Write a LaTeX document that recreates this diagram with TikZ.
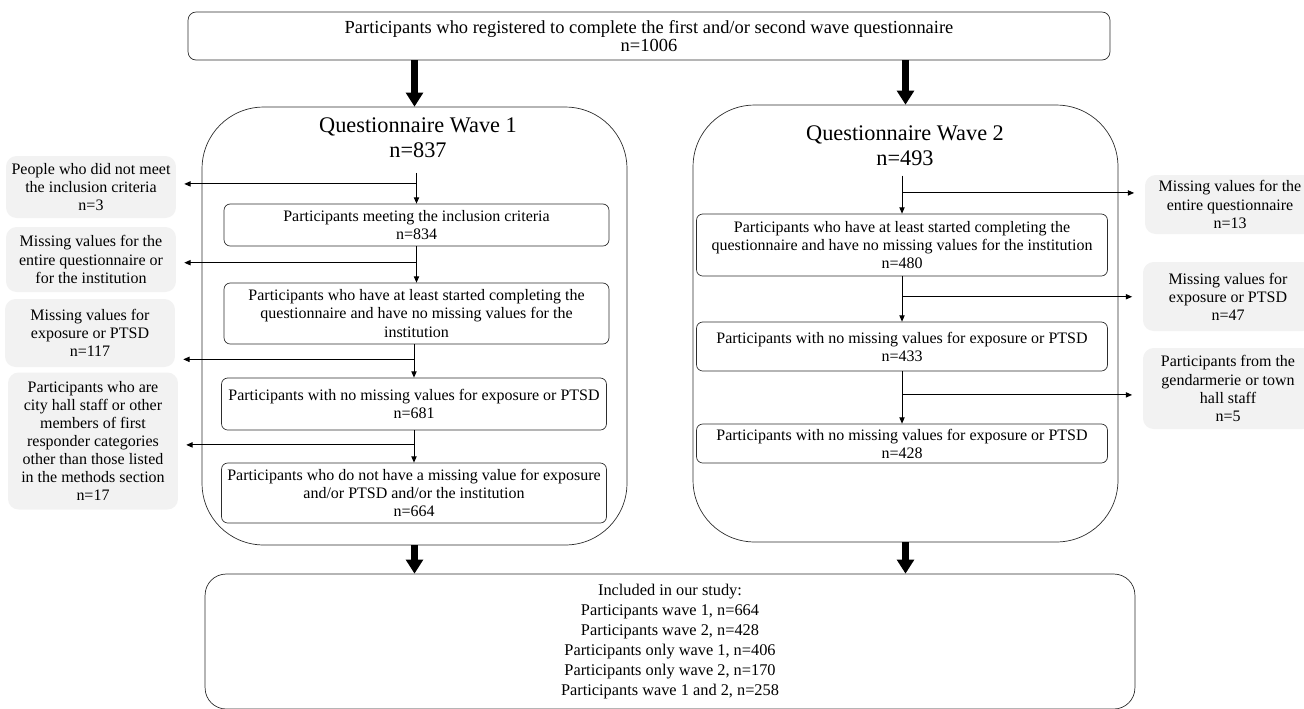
\documentclass[tikz,border=0pt]{standalone}
\usepackage{fontspec}
\setmainfont{Liberation Serif}
\usetikzlibrary{arrows.meta, positioning, calc}

\definecolor{sidegray}{RGB}{242,242,242}
\definecolor{edgegray}{RGB}{45,45,45}

\begin{document}
\begin{tikzpicture}[
  x=0.02cm, y=-0.02cm,
  every node/.style={font=\fontsize{9.1}{10.3}\selectfont},
  topbox/.style={draw=edgegray, rounded corners=4.5pt, align=center, minimum width=18.44cm, minimum height=0.96cm, font=\fontsize{10.5}{9.8}\selectfont},
  wavebox/.style={draw=edgegray, rounded corners=35pt, minimum width=8.5cm},
  wavetitle/.style={align=center, font=\fontsize{12.7}{14.2}\selectfont},
  stepbox/.style={draw=edgegray, rounded corners=3.5pt, align=center, inner sep=1pt},
  sidebox/.style={fill=sidegray, rounded corners=6pt, align=center, minimum width=3.4cm, inner sep=1pt},
  inclbox/.style={draw=edgegray, rounded corners=12pt, align=center, minimum width=18.6cm, minimum height=2.7cm, font=\fontsize{9.3}{11.3}\selectfont},
  fatarrow/.style={line width=4pt, -{Triangle[length=8pt,width=9.5pt]}},
  thinarrow/.style={line width=0.55pt, -{Triangle[length=3.6pt,width=3pt]}}
]
\useasboundingbox (0,0) rectangle (1304,708);

% registration
\node[topbox] (reg) at (649,36) {Participants who registered to complete the first and/or second wave questionnaire\\n=1006};

% the two waves
\node[wavebox, minimum height=8.76cm] (wave1) at (414.5,326) {};
\node[wavebox, minimum height=8.74cm] (wave2) at (905.5,323.5) {};
\node[wavetitle] (w1title) at (418,138) {Questionnaire Wave 1\\n=837};
\node[wavetitle] (w2title) at (905,146) {Questionnaire Wave 2\\n=493};

% wave 1 steps
\node[stepbox, minimum width=7.7cm, minimum height=0.84cm] (w1a) at (416.5,225) {Participants meeting the inclusion criteria\\n=834};
\node[stepbox, minimum width=7.7cm, minimum height=1.22cm] (w1b) at (416.5,313.5) {Participants who have at least started completing the\\questionnaire and have no missing values for the\\institution};
\node[stepbox, minimum width=7.7cm, minimum height=1.04cm] (w1c) at (414,404) {Participants with no missing values for exposure or PTSD\\n=681};
\node[stepbox, minimum width=7.7cm, minimum height=1.2cm] (w1d) at (414,493) {Participants who do not have a missing value for exposure\\and/or PTSD and/or the institution\\n=664};

% wave 2 steps
\node[stepbox, minimum width=8.22cm, minimum height=1.24cm] (w2a) at (902,245) {Participants who have at least started completing the\\questionnaire and have no missing values for the institution\\n=480};
\node[stepbox, minimum width=8.22cm, minimum height=0.98cm] (w2b) at (902,346.5) {Participants with no missing values for exposure or PTSD\\n=433};
\node[stepbox, minimum width=8.22cm, minimum height=0.78cm] (w2c) at (902,443.5) {Participants with no missing values for exposure or PTSD\\n=428};

% exclusions, wave 1
\node[sidebox, minimum height=1.24cm] (s1) at (91,187) {People who did not meet\\the inclusion criteria\\n=3};
\node[sidebox, minimum height=1.3cm] (s2) at (91,259.5) {Missing values for the\\entire questionnaire or\\for the institution};
\node[sidebox, minimum height=1.36cm] (s3) at (90,333) {Missing values for\\exposure or PTSD\\n=117};
\node[sidebox, minimum height=2.74cm] (s4) at (93,441) {Participants who are\\city hall staff or other\\members of first\\responder categories\\other than those listed\\in the methods section\\n=17};

% exclusions, wave 2
\node[sidebox, minimum height=1.18cm] (r1) at (1230,204.5) {Missing values for the\\entire questionnaire\\n=13};
\node[sidebox, minimum height=1.38cm] (r2) at (1228,296.5) {Missing values for\\exposure or PTSD\\n=47};
\node[sidebox, minimum height=1.62cm] (r3) at (1228,388.5) {Participants from the\\gendarmerie or town\\hall staff\\n=5};

% final sample
\node[inclbox] (incl) at (670,641.5) {Included in our study:\\Participants wave 1, n=664\\Participants wave 2, n=428\\Participants only wave 1, n=406\\Participants only wave 2, n=170\\Participants wave 1 and 2, n=258};

\draw[fatarrow] (reg.south -| wave1.north) -- (wave1.north);
\draw[fatarrow] (reg.south -| wave2.north) -- (wave2.north);
\draw[fatarrow] (wave1.south) -- (wave1.south |- incl.north);
\draw[fatarrow] (wave2.south) -- (wave2.south |- incl.north);

% wave 1 flow
\draw[thinarrow, shorten <=5pt] (w1title.south -| w1a.north) -- (w1a.north);
\draw[thinarrow] (w1a.south) -- (w1b.north);
\draw[thinarrow] (w1b.south -| w1c.north) -- (w1c.north);
\draw[thinarrow] (w1c.south) -- (w1d.north);
\coordinate (c1) at ($(w1title.south -| w1a.north)!0.5!(w1a.north)$);
\coordinate (c2) at ($(w1a.south)!0.45!(w1b.north)$);
\coordinate (c3) at ($(w1b.south -| w1c.north)!0.45!(w1c.north)$);
\coordinate (c4) at ($(w1c.south)!0.45!(w1d.north)$);
\draw[thinarrow, shorten >=4.5pt] (c1) -- (c1 -| s1.east);
\draw[thinarrow, shorten >=4.5pt] (c2) -- (c2 -| s2.east);
\draw[thinarrow, shorten >=4.5pt] (c3) -- (c3 -| s3.east);
\draw[thinarrow, shorten >=4.5pt] (c4) -- (c4 -| s4.east);

% wave 2 flow
\draw[thinarrow, shorten <=2pt] (w2title.south -| w2a.north) -- (w2a.north);
\draw[thinarrow] (w2a.south) -- (w2b.north);
\draw[thinarrow] (w2b.south) -- (w2c.north);
\coordinate (d1) at ($(w2title.south -| w2a.north)!0.5!(w2a.north)$);
\coordinate (d2) at ($(w2a.south)!0.45!(w2b.north)$);
\coordinate (d3) at ($(w2b.south)!0.45!(w2c.north)$);
\draw[thinarrow, shorten >=6pt] (d1) -- (d1 -| r1.west);
\draw[thinarrow, shorten >=6pt] (d2) -- (d2 -| r2.west);
\draw[thinarrow, shorten >=6pt] (d3) -- (d3 -| r3.west);

\end{tikzpicture}
\end{document}
